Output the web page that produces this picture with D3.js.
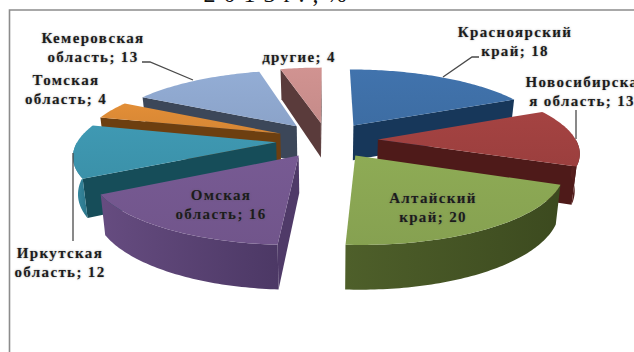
<!DOCTYPE html>
<html lang="ru">
<head>
<meta charset="utf-8">
<title>Структура, 2013 г., %</title>
<script src="https://cdn.jsdelivr.net/npm/d3@7"></script>
<style>
  html, body { margin: 0; padding: 0; background: #fff; overflow: hidden; }
  svg { display: block; }
  .label { font-family: "Liberation Serif", serif; font-weight: 700; font-size: 15px;
           letter-spacing: 1.35px; fill: #1c1c1c; text-anchor: middle; }
</style>
</head>
<body>
<svg id="chart" width="634" height="352"></svg>
<script>
// Regions, in clockwise order from twelve o'clock, with their shares in per cent.
const regions = ["Красноярский край", "Новосибирская область", "Алтайский край", "Омская область",
                 "Иркутская область", "Томская область", "Кемеровская область", "другие"];
const shares = [18, 13, 20, 16, 12, 4, 13, 4];
const topColors = ["#3f70a8", "#a04140", "#8aa653", "#74578f", "#3d95ae", "#dc8a35", "#8fa8cf", "#cb8f8d"];
const rimLight = ["#1f4468", "#5a2120", "#4e5f2a", "#664c80", "#3b90a8", "#8a5218", "#47536a", "#5c3d3c"];
const rimDark = ["#17375a", "#4a1817", "#3c4a1f", "#4c3865", "#2a7488", "#6d3f10", "#3c4759", "#4f3434"];
const cutColors = ["#17375a", "#4e1a19", "#3c4a1f", "#4f3a68", "#164d59", "#6d3f10", "#3c4759", "#5a3b3b"];
const labelLines = [
  ["Красноярский", "край; 18"], ["Новосибирска", "я область; 13"], ["Алтайский", "край; 20"],
  ["Омская", "область; 16"], ["Иркутская", "область; 12"], ["Томская", "область; 4"],
  ["Кемеровская", "область; 13"], ["другие; 4"]
];
// Centre of each label block, x and first baseline y.
const labelAnchors = [[515, 37], [582, 87], [433, 203], [221, 200], [60, 258], [66, 85], [93, 43], [299, 62]];
// Leader lines, listed by the region they belong to.
const leaderRegions = [0, 1, 4, 6];
const leaderPaths = [
  [[479, 57], [472, 57], [443, 77]],
  [[576, 110], [576, 139]],
  [[73, 153], [73, 241]],
  [[142, 62], [150, 62], [193, 80]]
];
const drawOrder = [7, 0, 6, 1, 5, 4, 3, 2];

// Scene constants for the tilted, exploded pie.
const cx = 327, cy = 140;
const radius = 198, explode = 51, thickness = 36;
const tilt = 0.35, viewDistance = 1230, depthShrink = 0.98;

const svg = d3.select("#chart");
const defs = svg.append("defs");

// Chart frame: only the top and left rules fall inside the page.
svg.append("path")
  .attr("d", d3.line()([[9.5, 352], [9.5, 10], [634, 10]]))
  .attr("fill", "none").attr("stroke", "#8c8c8c").attr("stroke-width", 1.6);

// Title line, mostly above the top edge of the page.
svg.append("text").attr("x", 279).attr("y", 2)
  .attr("text-anchor", "middle")
  .attr("font-family", "Liberation Serif, serif").attr("font-size", 24)
  .attr("letter-spacing", 8).attr("fill", "#111").text("2013г.,%");

// Ground-plane point (u to the right, v away from the viewer) at a given depth below the top face.
function project(u, v, z) {
  const p = viewDistance / (viewDistance + v);
  const shrink = z ? depthShrink : 1;
  return [cx + u * p * shrink, cy - v * tilt * p + z * p];
}

const pie = d3.pie().sort(null).startAngle(0).endAngle(2 * Math.PI);
const arcs = pie(shares);
const line = d3.line();
const angleStep = Math.PI / 180;

function rimPoint(arc, a, z) {
  const mid = (arc.startAngle + arc.endAngle) / 2;
  const ou = explode * Math.sin(mid), ov = explode * Math.cos(mid);
  return project(ou + radius * Math.sin(a), ov + radius * Math.cos(a), z);
}
function apexPoint(arc, z) {
  const mid = (arc.startAngle + arc.endAngle) / 2;
  return project(explode * Math.sin(mid), explode * Math.cos(mid), z);
}
const anglesBetween = (a0, a1) => {
  const n = Math.max(2, Math.ceil((a1 - a0) / angleStep));
  return d3.range(n + 1).map(i => a0 + (a1 - a0) * i / n);
};

arcs.forEach((arc, i) => {
  const g = defs.append("linearGradient").attr("id", "rim" + i);
  g.append("stop").attr("offset", 0).attr("stop-color", rimLight[i]);
  g.append("stop").attr("offset", 1).attr("stop-color", rimDark[i]);
  const t = defs.append("linearGradient").attr("id", "top" + i)
    .attr("x1", 0).attr("y1", 0).attr("x2", 0).attr("y2", 1);
  t.append("stop").attr("offset", 0).attr("stop-color", d3.color(topColors[i]).brighter(0.08));
  t.append("stop").attr("offset", 1).attr("stop-color", d3.color(topColors[i]).darker(0.08));
});

const slices = svg.append("g").selectAll("g").data(drawOrder).join("g");
slices.each(function (i) {
  const arc = arcs[i], g = d3.select(this);
  const a0 = arc.startAngle, a1 = arc.endAngle;

  // Cut faces are painted only where they turn toward the viewer.
  const cutFace = a => [apexPoint(arc, 0), rimPoint(arc, a, 0), rimPoint(arc, a, thickness), apexPoint(arc, thickness)];
  if (Math.sin(a0) < 0) g.append("path").attr("d", line(cutFace(a0)) + "Z").attr("fill", cutColors[i]);
  if (Math.sin(a1) > 0) g.append("path").attr("d", line(cutFace(a1)) + "Z").attr("fill", cutColors[i]);

  // Outer wall along the near half of the rim.
  const from = Math.max(a0, Math.PI / 2), to = Math.min(a1, 3 * Math.PI / 2);
  if (to > from) {
    const angles = anglesBetween(from, to);
    const wall = angles.map(a => rimPoint(arc, a, 0))
      .concat(angles.slice().reverse().map(a => rimPoint(arc, a, thickness)));
    g.append("path").attr("d", line(wall) + "Z").attr("fill", `url(#rim${i})`);
  }

  // Top face.
  const top = [apexPoint(arc, 0)].concat(anglesBetween(a0, a1).map(a => rimPoint(arc, a, 0)));
  g.append("path").attr("d", line(top) + "Z").attr("fill", `url(#top${i})`);
});

// Leader lines.
svg.append("g").selectAll("path").data(leaderRegions).join("path")
  .attr("d", (r, k) => line(leaderPaths[k]))
  .attr("fill", "none").attr("stroke", "#4a4a4a").attr("stroke-width", 1.3);

// Data labels.
const labels = svg.append("g").selectAll("text").data(regions).join("text")
  .attr("class", "label")
  .style("text-shadow", "0 0 2px rgba(90,90,90,0.55)")
  .attr("transform", (d, i) => `translate(${labelAnchors[i][0]},${labelAnchors[i][1]})`);
labels.selectAll("tspan").data((d, i) => labelLines[i]).join("tspan")
  .attr("x", 0).attr("dy", (d, j) => j ? 18.5 : 0).text(d => d);
</script>
</body>
</html>
